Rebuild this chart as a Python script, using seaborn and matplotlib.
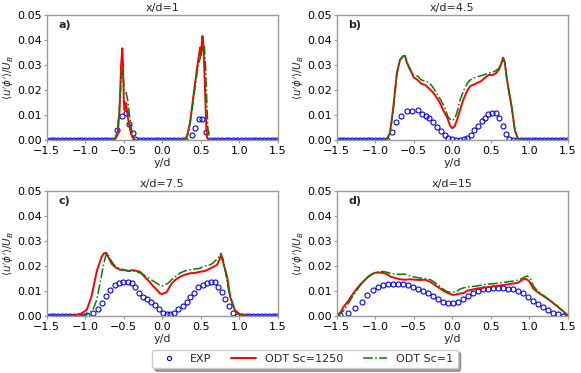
import matplotlib
matplotlib.use("Agg")
import matplotlib.pyplot as plt
import seaborn as sns
import pandas as pd
from matplotlib.lines import Line2D

sns.set_theme(style="ticks")
plt.rcParams.update({
    "font.family": ["DejaVu Sans"],
    "axes.edgecolor": "#9a9a9a",
    "xtick.color": "#9a9a9a",
    "ytick.color": "#9a9a9a",
    "xtick.labelcolor": "black",
    "ytick.labelcolor": "black",
    "axes.linewidth": 1.0,
})

TITLES = ["x/d=1", "x/d=4.5", "x/d=7.5", "x/d=15"]
PANEL_LABELS = ["a)", "b)", "c)", "d)"]
LEGEND_LABELS = ["EXP", "ODT Sc=1250", "ODT Sc=1"]
X_TICKS = [-1.5, -1.0, -0.5, 0.0, 0.5, 1.0, 1.5]
Y_TICKS = [0.0, 0.01, 0.02, 0.03, 0.04, 0.05]

# ---------------- panel a) x/d=1 ----------------
exp_a_x = [-1.5, -1.45, -1.4, -1.35, -1.3, -1.25, -1.2, -1.15, -1.1, -1.05, -1.0, -0.95, -0.9,
           -0.85, -0.8, -0.75, -0.7, -0.65, -0.584, -0.527, -0.47, -0.43, -0.386, -0.35,
           -0.3, -0.25, -0.2, -0.15, -0.1, -0.05, 0.0, 0.05, 0.1, 0.15, 0.2, 0.25, 0.3,
           0.38, 0.42, 0.475, 0.52, 0.56, 0.62, 0.67, 0.72, 0.77, 0.82, 0.87, 0.92, 0.97,
           1.02, 1.07, 1.12, 1.17, 1.22, 1.27, 1.32, 1.37, 1.42, 1.47]
exp_a_y = [0, 0, 0, 0, 0, 0, 0, 0, 0, 0, 0, 0, 0,
           0, 0, 0, 0, 0, 0.004, 0.0096, 0.0107, 0.0065, 0.0027, 0.0005,
           0, 0, 0, 0, 0, 0, 0, 0, 0, 0, 0, 0, 0,
           0.002, 0.005, 0.0085, 0.0085, 0.0033, 0, 0, 0, 0, 0, 0, 0, 0,
           0, 0, 0, 0, 0, 0, 0, 0, 0, 0]
red_a_x = [-1.5, -0.7, -0.62, -0.58, -0.555, -0.535, -0.52, -0.51, -0.5, -0.49, -0.48, -0.47,
           -0.46, -0.45, -0.43, -0.41, -0.39, -0.37, -0.35, 0.28, 0.32, 0.36, 0.4, 0.43, 0.46,
           0.48, 0.49, 0.5, 0.51, 0.52, 0.53, 0.545, 0.56, 0.57, 0.58, 0.6, 1.5]
red_a_y = [0, 0, 0, 0.002, 0.012, 0.03, 0.0367, 0.03, 0.016, 0.012, 0.015, 0.0145,
           0.012, 0.0095, 0.006, 0.003, 0.0012, 0.0003, 0, 0, 0.0015, 0.007, 0.017, 0.024, 0.031,
           0.035, 0.037, 0.034, 0.038, 0.0416, 0.039, 0.028, 0.014, 0.005, 0.001, 0, 0]
grn_a_x = [-1.5, -0.62, -0.58, -0.55, -0.53, -0.515, -0.505, -0.49, -0.47, -0.45, -0.43, -0.41,
           -0.39, -0.37, -0.34, 0.3, 0.34, 0.38, 0.42, 0.46, 0.5, 0.53, 0.545, 0.56, 0.575,
           0.59, 0.61, 1.5]
grn_a_y = [0, 0, 0.004, 0.016, 0.026, 0.028, 0.024, 0.019, 0.019, 0.016, 0.011, 0.006,
           0.0025, 0.0008, 0, 0, 0.003, 0.011, 0.02, 0.029, 0.034, 0.037, 0.0375, 0.03, 0.017,
           0.005, 0, 0]

# ---------------- panel b) x/d=4.5 ----------------
exp_b_x = [-1.5, -1.45, -1.4, -1.35, -1.3, -1.25, -1.2, -1.15, -1.1, -1.05, -1.0, -0.95, -0.9,
           -0.85, -0.787, -0.731, -0.666, -0.592, -0.527, -0.45, -0.398, -0.346, -0.299,
           -0.255, -0.2, -0.15, -0.1, -0.05, 0.0, 0.05, 0.1, 0.15, 0.195, 0.238, 0.28, 0.329,
           0.38, 0.42, 0.466, 0.518, 0.566, 0.605, 0.653, 0.696, 0.739, 0.79, 0.84, 0.89,
           0.94, 0.99, 1.04, 1.09, 1.14, 1.19, 1.24, 1.29, 1.34, 1.39, 1.44, 1.49]
exp_b_y = [0, 0, 0, 0, 0, 0, 0, 0, 0, 0, 0, 0, 0,
           0, 0.0031, 0.0071, 0.0096, 0.0116, 0.0116, 0.012, 0.0103, 0.0096, 0.0087,
           0.0073, 0.0053, 0.0036, 0.002, 0.0009, 0.0003, 0.0, 0.0001, 0.0003, 0.001, 0.002, 0.004, 0.0057,
           0.0076, 0.0087, 0.0104, 0.011, 0.0107, 0.0087, 0.0056, 0.0024, 0.0003, 0, 0, 0,
           0, 0, 0, 0, 0, 0, 0, 0, 0, 0, 0, 0]
red_b_x = [-1.5, -0.9, -0.85, -0.81, -0.77, -0.72, -0.68, -0.64, -0.614, -0.59, -0.55, -0.5,
           -0.45, -0.4, -0.35, -0.3, -0.25, -0.2, -0.16, -0.12, -0.07, -0.03, 0.0, 0.03, 0.06,
           0.1, 0.14, 0.19, 0.23, 0.28, 0.32, 0.37, 0.42, 0.47, 0.52, 0.57, 0.61, 0.64, 0.66,
           0.68, 0.7, 0.73, 0.77, 0.81, 0.85, 0.9, 1.5]
red_b_y = [0, 0, 0.0003, 0.0027, 0.012, 0.0267, 0.032, 0.0335, 0.0336, 0.031, 0.0285, 0.025,
           0.024, 0.0225, 0.022, 0.0205, 0.019, 0.0168, 0.0148, 0.012, 0.0092, 0.0058, 0.0047,
           0.0055, 0.008, 0.012, 0.016, 0.0195, 0.0215, 0.0222, 0.0228, 0.0235, 0.0248, 0.026,
           0.026, 0.0268, 0.0285, 0.031, 0.0329, 0.031, 0.026, 0.02, 0.0133, 0.004, 0.0005, 0, 0]
grn_b_x = [-1.5, -0.9, -0.85, -0.81, -0.77, -0.72, -0.68, -0.64, -0.62, -0.59, -0.55, -0.5,
           -0.45, -0.4, -0.35, -0.3, -0.25, -0.2, -0.15, -0.1, -0.06, -0.02, 0.0, 0.03, 0.06,
           0.1, 0.15, 0.2, 0.25, 0.3, 0.35, 0.4, 0.45, 0.5, 0.55, 0.6, 0.63, 0.655, 0.68, 0.7,
           0.73, 0.77, 0.81, 0.85, 0.9, 1.5]
grn_b_y = [0, 0, 0.0003, 0.0025, 0.011, 0.026, 0.032, 0.0335, 0.0338, 0.031, 0.028, 0.026,
           0.0255, 0.024, 0.0235, 0.023, 0.021, 0.0185, 0.016, 0.013, 0.0095, 0.008, 0.0078,
           0.0085, 0.011, 0.016, 0.02, 0.023, 0.0245, 0.025, 0.0255, 0.026, 0.0265, 0.027,
           0.0275, 0.0285, 0.0305, 0.0328, 0.031, 0.026, 0.02, 0.013, 0.004, 0.0005, 0, 0]

# ---------------- panel c) x/d=7.5 ----------------
exp_c_x = [-1.5, -1.45, -1.4, -1.35, -1.3, -1.25, -1.2, -1.15, -1.1, -1.033, -0.973, -0.903,
           -0.839, -0.787, -0.735, -0.679, -0.614, -0.558, -0.506, -0.45, -0.398, -0.355,
           -0.303, -0.255, -0.203, -0.151, -0.095, -0.043, 0.004, 0.056, 0.099, 0.151, 0.207,
           0.264, 0.316, 0.359, 0.41, 0.466, 0.523, 0.575, 0.631, 0.683, 0.726, 0.77, 0.813,
           0.869, 0.92, 0.972, 1.03, 1.08, 1.13, 1.18, 1.23, 1.28, 1.33, 1.38, 1.43, 1.48]
exp_c_y = [0, 0, 0, 0, 0, 0, 0, 0, 0, 0, 0.0004, 0.0011,
           0.0027, 0.0053, 0.008, 0.0104, 0.0124, 0.0133, 0.0137, 0.0137, 0.0131, 0.0117,
           0.0093, 0.0077, 0.0067, 0.0057, 0.0044, 0.0027, 0.0011, 0.0008, 0.0009, 0.0013, 0.0027,
           0.004, 0.0057, 0.0077, 0.0093, 0.0117, 0.0124, 0.0133, 0.0137, 0.0136, 0.0117, 0.0097, 0.007,
           0.004, 0.0011, 0.0001, 0, 0, 0, 0, 0, 0, 0, 0, 0, 0.0002]
red_c_x = [-1.5, -1.2, -1.11, -1.05, -0.98, -0.92, -0.85, -0.79, -0.76, -0.73, -0.7, -0.66,
           -0.61, -0.55, -0.5, -0.44, -0.38, -0.33, -0.29, -0.24, -0.2, -0.16, -0.12, -0.07,
           -0.03, 0.0, 0.03, 0.06, 0.09, 0.12, 0.17, 0.23, 0.29, 0.36, 0.42, 0.49, 0.55, 0.62,
           0.67, 0.71, 0.74, 0.757, 0.78, 0.81, 0.84, 0.88, 0.94, 1.0, 1.05, 1.1, 1.5]
red_c_y = [0, 0, 0.0004, 0.001, 0.0025, 0.0077, 0.018, 0.0235, 0.025, 0.0253, 0.0235, 0.021,
           0.0195, 0.0185, 0.0184, 0.018, 0.0184, 0.018, 0.0177, 0.016, 0.0147, 0.0135, 0.012,
           0.0104, 0.009, 0.0088, 0.0092, 0.0097, 0.0115, 0.013, 0.0145, 0.0157, 0.0165, 0.0171,
           0.0172, 0.0177, 0.018, 0.019, 0.0198, 0.0205, 0.0225, 0.024, 0.0225, 0.019, 0.0157,
           0.0077, 0.0024, 0.0008, 0.0004, 0, 0]
grn_c_x = [-1.5, -1.1, -1.0, -0.95, -0.9, -0.85, -0.8, -0.76, -0.73, -0.71, -0.68, -0.64,
           -0.6, -0.55, -0.5, -0.44, -0.38, -0.32, -0.27, -0.22, -0.17, -0.12, -0.07, -0.03,
           0.0, 0.03, 0.07, 0.12, 0.18, 0.23, 0.29, 0.36, 0.42, 0.48, 0.55, 0.6, 0.65, 0.7,
           0.73, 0.76, 0.79, 0.82, 0.85, 0.88, 0.92, 0.96, 1.0, 1.05, 1.5]
grn_c_y = [0, 0, 0.0003, 0.001, 0.0025, 0.0065, 0.0145, 0.021, 0.0245, 0.0252, 0.023, 0.021,
           0.0195, 0.019, 0.0185, 0.018, 0.018, 0.0175, 0.017, 0.016, 0.015, 0.014, 0.013,
           0.0123, 0.012, 0.0125, 0.013, 0.0145, 0.016, 0.0172, 0.018, 0.0185, 0.0188, 0.019,
           0.02, 0.0202, 0.021, 0.0225, 0.0235, 0.025, 0.0225, 0.0175, 0.012, 0.0075, 0.004,
           0.0015, 0.0006, 0, 0]

# ---------------- panel d) x/d=15 ----------------
exp_d_x = [-1.5, -1.457, -1.349, -1.263, -1.176, -1.103, -1.025, -0.96, -0.896, -0.831,
           -0.766, -0.701, -0.636, -0.571, -0.506, -0.442, -0.377, -0.312, -0.247, -0.182,
           -0.117, -0.053, 0.012, 0.077, 0.142, 0.207, 0.272, 0.337, 0.402, 0.466, 0.531,
           0.596, 0.661, 0.726, 0.79, 0.855, 0.92, 0.985, 1.05, 1.115, 1.18, 1.244, 1.309,
           1.374, 1.439, 1.5]
exp_d_y = [0.0, 0.0004, 0.0013, 0.0031, 0.0057, 0.0084, 0.0104, 0.0117, 0.0124, 0.0127,
           0.0127, 0.0128, 0.0128, 0.0124, 0.0117, 0.0108, 0.0101, 0.0091, 0.008, 0.0067,
           0.0057, 0.0051, 0.0051, 0.0057, 0.0067, 0.008, 0.0091, 0.01, 0.0107, 0.011, 0.0111,
           0.0111, 0.0111, 0.011, 0.0107, 0.01, 0.0091, 0.0077, 0.0061, 0.0047, 0.0035, 0.0024,
           0.0013, 0.0007, 0.0001, 0.0]
red_d_x = [-1.5, -1.45, -1.41, -1.35, -1.3, -1.25, -1.2, -1.15, -1.09, -1.04, -1.0, -0.95,
           -0.9, -0.85, -0.8, -0.74, -0.68, -0.61, -0.55, -0.48, -0.42, -0.35, -0.29, -0.23,
           -0.16, -0.1, -0.05, 0.01, 0.06, 0.1, 0.15, 0.19, 0.25, 0.32, 0.4, 0.49, 0.57, 0.66,
           0.73, 0.79, 0.85, 0.92, 0.96, 1.0, 1.05, 1.1, 1.18, 1.25, 1.31, 1.37, 1.42, 1.47, 1.5]
red_d_y = [0, 0.0015, 0.0037, 0.006, 0.0084, 0.0105, 0.0124, 0.014, 0.0157, 0.0168, 0.0173,
           0.0174, 0.0172, 0.0168, 0.0157, 0.0152, 0.0147, 0.0145, 0.0147, 0.0145, 0.0144,
           0.0145, 0.0137, 0.0125, 0.011, 0.0098, 0.0091, 0.0084, 0.0087, 0.009, 0.0092,
           0.0101, 0.0105, 0.011, 0.0113, 0.0117, 0.012, 0.0124, 0.0127, 0.013, 0.0133, 0.0147,
           0.0148, 0.0138, 0.011, 0.0097, 0.008, 0.0066, 0.0051, 0.0037, 0.0024, 0.001, 0]
grn_d_x = [-1.5, -1.45, -1.4, -1.35, -1.3, -1.25, -1.2, -1.15, -1.1, -1.05, -1.0, -0.95,
           -0.9, -0.85, -0.8, -0.74, -0.68, -0.62, -0.55, -0.48, -0.42, -0.35, -0.29, -0.23,
           -0.16, -0.1, -0.05, 0.0, 0.05, 0.1, 0.15, 0.2, 0.26, 0.32, 0.4, 0.48, 0.56, 0.64,
           0.72, 0.8, 0.87, 0.93, 0.97, 1.01, 1.05, 1.1, 1.17, 1.24, 1.31, 1.37, 1.42, 1.47, 1.5]
grn_d_y = [0, 0.001, 0.0025, 0.005, 0.0075, 0.0098, 0.012, 0.0138, 0.0155, 0.0167, 0.0173,
           0.0177, 0.0178, 0.0175, 0.017, 0.0167, 0.0167, 0.0168, 0.016, 0.0155, 0.0152, 0.015,
           0.0146, 0.0135, 0.0118, 0.0103, 0.0096, 0.0095, 0.0098, 0.0108, 0.0113, 0.0116,
           0.0118, 0.012, 0.0125, 0.0128, 0.013, 0.0133, 0.0137, 0.014, 0.0145, 0.0155, 0.016,
           0.0152, 0.012, 0.0102, 0.0085, 0.0068, 0.0052, 0.0036, 0.0022, 0.0008, 0]

panels = [
    (exp_a_x, exp_a_y, red_a_x, red_a_y, grn_a_x, grn_a_y),
    (exp_b_x, exp_b_y, red_b_x, red_b_y, grn_b_x, grn_b_y),
    (exp_c_x, exp_c_y, red_c_x, red_c_y, grn_c_x, grn_c_y),
    (exp_d_x, exp_d_y, red_d_x, red_d_y, grn_d_x, grn_d_y),
]

W, H = 581, 373
fig = plt.figure(figsize=(W / 100, H / 100), dpi=100)
boxes = [(46.7, 15, 278, 140), (336.7, 15, 568, 140),
         (46.7, 191, 278, 316), (336.7, 191, 568, 316)]

EXP_KW = dict(marker="o", linestyle="", markerfacecolor="none", markeredgecolor="blue",
              markersize=3.6, markeredgewidth=0.8, color="blue")
RED_KW = dict(color="red", linewidth=1.4)
GRN_KW = dict(color="green", linewidth=1.1, linestyle="-.")

for i, (ex, ey, rx, ry, gx, gy) in enumerate(panels):
    l, t, r, b = boxes[i]
    ax = fig.add_axes([l / W, 1 - b / H, (r - l) / W, (b - t) / H])
    sns.lineplot(x=ex, y=ey, ax=ax, estimator=None, sort=False, **EXP_KW)
    sns.lineplot(x=rx, y=ry, ax=ax, estimator=None, sort=False, **RED_KW)
    sns.lineplot(x=gx, y=gy, ax=ax, estimator=None, sort=False, **GRN_KW)
    ax.set_xlim(-1.5, 1.5)
    ax.set_ylim(0, 0.05)
    ax.set_xticks(X_TICKS)
    ax.set_yticks(Y_TICKS)
    ax.set_xticklabels([f"{v:.1f}".replace("-", "\u2212") for v in X_TICKS], fontsize=8)
    ax.set_yticklabels([f"{v:.2f}" for v in Y_TICKS], fontsize=8)
    ax.tick_params(axis="x", length=2.5, width=0.8, pad=2)
    ax.tick_params(axis="y", length=2.5, width=0.8, pad=1)
    ax.set_title(TITLES[i], fontsize=8, pad=3)
    ax.set_xlabel("y/d", fontsize=8, labelpad=1)
    ax.set_ylabel(r"$\langle u'\phi'\rangle/U_B$", fontsize=7.5, labelpad=0.5)
    ax.text(0.05, 0.92, PANEL_LABELS[i], transform=ax.transAxes, fontsize=8,
            fontweight="bold", va="center", ha="left")
    for s in ax.spines.values():
        s.set_visible(True)

leg_exp = dict(EXP_KW)
leg_exp["markersize"] = 3.0
handles = [Line2D([], [], **leg_exp), Line2D([], [], **RED_KW), Line2D([], [], **GRN_KW)]
fig.legend(handles, LEGEND_LABELS, loc="center", bbox_to_anchor=(305 / W, 1 - 359 / H),
           ncol=3, fontsize=8, frameon=True, fancybox=True, shadow=True,
           columnspacing=1.8, handlelength=2.2, borderpad=0.4)

fig.savefig("out.png", dpi=100)
